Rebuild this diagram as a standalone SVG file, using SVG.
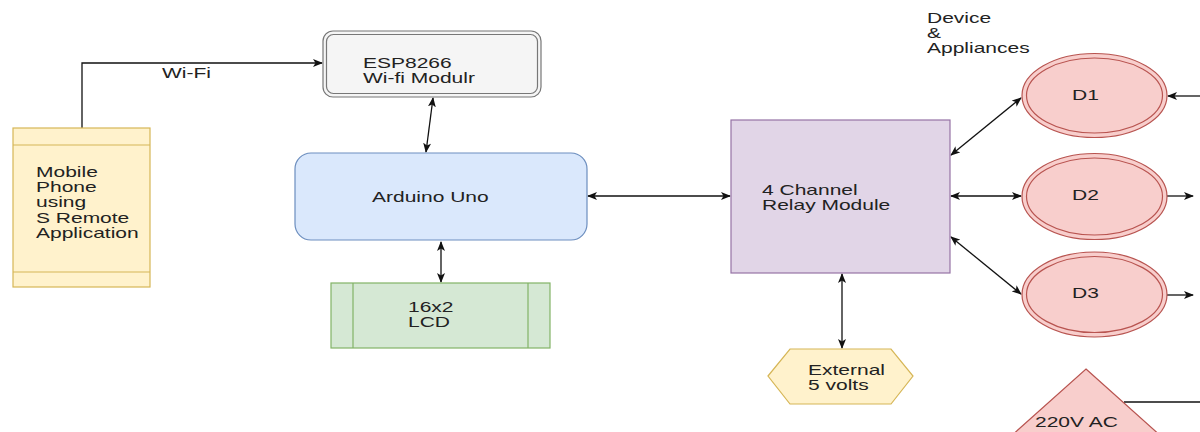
<svg xmlns="http://www.w3.org/2000/svg" width="1200" height="432" viewBox="0 0 1200 432">
<style>
.t{font-family:"Liberation Sans",Arial,sans-serif;font-size:14px;fill:#222}
.ln{fill:none;stroke:#111;stroke-width:1.3}
.bi{marker-start:url(#ah);marker-end:url(#ah)}
.one{marker-end:url(#ah)}
</style>
<defs>
<marker id="ah" viewBox="0 0 10 8" refX="9" refY="4" markerWidth="10" markerHeight="8" markerUnits="userSpaceOnUse" orient="auto-start-reverse">
<path d="M0,0 L10,4 L0,8 L2.5,4 Z" fill="#111"/>
</marker>
</defs>
<rect width="1200" height="432" fill="#fff"/>

<g id="connectors">
<polyline class="ln one" points="82,128 82,63 322,63"/>
<line class="ln bi" x1="433" y1="98" x2="426" y2="152"/>
<line class="ln bi" x1="441" y1="242" x2="441" y2="282"/>
<line class="ln bi" x1="588" y1="196" x2="730" y2="196"/>
<line class="ln bi" x1="842" y1="274" x2="842" y2="348"/>
<line class="ln bi" x1="951" y1="155" x2="1021" y2="98"/>
<line class="ln bi" x1="951" y1="196" x2="1021" y2="196"/>
<line class="ln bi" x1="951" y1="237" x2="1021" y2="294"/>
<line class="ln one" x1="1200" y1="96" x2="1168" y2="96"/>
<line class="ln one" x1="1167" y1="196" x2="1193" y2="196"/>
<line class="ln one" x1="1167" y1="295" x2="1193" y2="295"/>
<line class="ln" x1="1124" y1="402" x2="1200" y2="402"/>
<text class="t" transform="translate(162,78) scale(1.5,1)">Wi-Fi</text>
</g>

<g id="phone">
<rect x="13" y="128" width="137" height="159" fill="#fff2cc" stroke="#d6b656" stroke-width="1.2"/>
<line x1="13" y1="145" x2="150" y2="145" stroke="#d6b656" stroke-width="1.2"/>
<line x1="13" y1="272" x2="150" y2="272" stroke="#d6b656" stroke-width="1.2"/>
<text class="t" transform="translate(36,177) scale(1.5,1)"><tspan x="0" y="0">Mobile</tspan><tspan x="0" y="15.2">Phone</tspan><tspan x="0" y="30.4">using</tspan><tspan x="0" y="45.6">S Remote</tspan><tspan x="0" y="60.8">Application</tspan></text>
</g>

<g id="esp">
<rect x="323" y="31" width="218" height="66" rx="10" fill="#f5f5f5" stroke="#777" stroke-width="1.2"/>
<rect x="326.5" y="34.5" width="211" height="59" rx="7" fill="none" stroke="#777" stroke-width="1.2"/>
<text class="t" transform="translate(363,68) scale(1.5,1)"><tspan x="0" y="0">ESP8266</tspan><tspan x="0" y="15">Wi-fi Modulr</tspan></text>
</g>

<g id="arduino">
<rect x="295" y="153" width="292" height="87" rx="16" fill="#dae8fc" stroke="#6c8ebf" stroke-width="1.2"/>
<text class="t" transform="translate(372,202) scale(1.5,1)">Arduino Uno</text>
</g>

<g id="lcd">
<rect x="331" y="283" width="219" height="65" fill="#d5e8d4" stroke="#82b366" stroke-width="1.2"/>
<line x1="353" y1="283" x2="353" y2="348" stroke="#82b366" stroke-width="1.2"/>
<line x1="528" y1="283" x2="528" y2="348" stroke="#82b366" stroke-width="1.2"/>
<text class="t" transform="translate(408,312) scale(1.5,1)"><tspan x="0" y="0">16x2</tspan><tspan x="0" y="15">LCD</tspan></text>
</g>

<g id="relay">
<rect x="731" y="120" width="219" height="153" fill="#e1d5e7" stroke="#9673a6" stroke-width="1.2"/>
<text class="t" transform="translate(762,195) scale(1.5,1)"><tspan x="0" y="0">4 Channel</tspan><tspan x="0" y="15">Relay Module</tspan></text>
</g>

<g id="external">
<polygon points="768,376 790,349 891,349 913,376 891,404 790,404" fill="#fff2cc" stroke="#d6b656" stroke-width="1.2"/>
<text class="t" transform="translate(808,375) scale(1.5,1)"><tspan x="0" y="0">External</tspan><tspan x="0" y="15">5 volts</tspan></text>
</g>

<g id="devices-label">
<text class="t" transform="translate(927,23) scale(1.5,1)"><tspan x="0" y="0">Device</tspan><tspan x="0" y="15">&amp;</tspan><tspan x="0" y="30">Appliances</tspan></text>
</g>

<g id="d1">
<ellipse cx="1094.5" cy="95.5" rx="72.5" ry="42" fill="#f8cecc" stroke="#b85450" stroke-width="1.2"/>
<ellipse cx="1094.5" cy="95.5" rx="68" ry="37.5" fill="none" stroke="#b85450" stroke-width="1.2"/>
<text class="t" transform="translate(1072,100) scale(1.5,1)">D1</text>
</g>

<g id="d2">
<ellipse cx="1094.5" cy="196.5" rx="72.5" ry="43" fill="#f8cecc" stroke="#b85450" stroke-width="1.2"/>
<ellipse cx="1094.5" cy="196.5" rx="68" ry="38.5" fill="none" stroke="#b85450" stroke-width="1.2"/>
<text class="t" transform="translate(1072,200) scale(1.5,1)">D2</text>
</g>

<g id="d3">
<ellipse cx="1094.5" cy="294.5" rx="72.5" ry="42.5" fill="#f8cecc" stroke="#b85450" stroke-width="1.2"/>
<ellipse cx="1094.5" cy="294.5" rx="68" ry="38" fill="none" stroke="#b85450" stroke-width="1.2"/>
<text class="t" transform="translate(1072,298) scale(1.5,1)">D3</text>
</g>

<g id="ac">
<polygon points="1086,369 1172,446 1000,446" fill="#f8cecc" stroke="#b85450" stroke-width="1.2"/>
<text class="t" transform="translate(1035,427) scale(1.5,1)">220V AC</text>
</g>
</svg>
